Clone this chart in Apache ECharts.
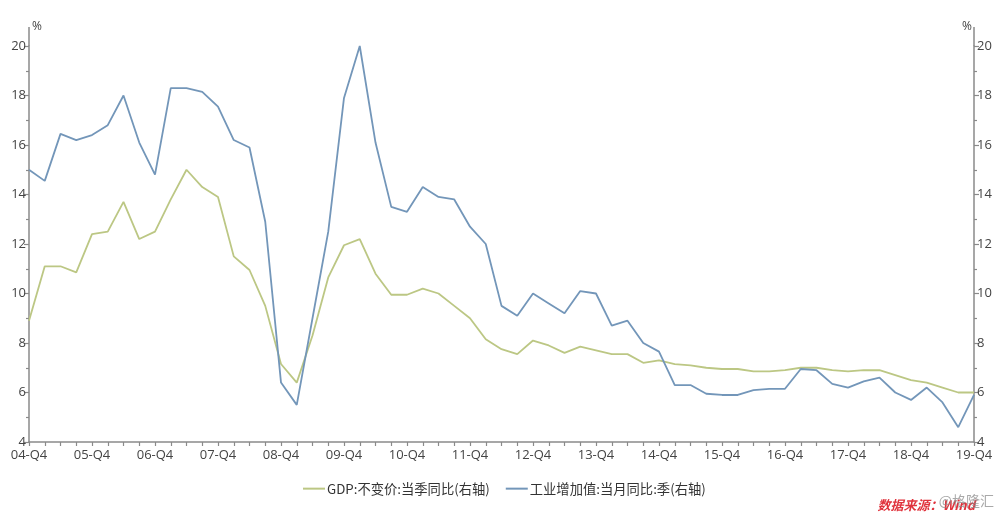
<!DOCTYPE html>
<html><head><meta charset="utf-8">
<script src="https://cdn.jsdelivr.net/npm/echarts@6/dist/echarts.min.js"></script>
<style>html,body{margin:0;padding:0;background:#fff}#c{width:1000px;height:517px}</style>
</head><body><div id="c"></div>
<script>
const categories = ["04-Q4","05-Q1","05-Q2","05-Q3","05-Q4","06-Q1","06-Q2","06-Q3","06-Q4","07-Q1","07-Q2","07-Q3","07-Q4","08-Q1","08-Q2","08-Q3","08-Q4","09-Q1","09-Q2","09-Q3","09-Q4","10-Q1","10-Q2","10-Q3","10-Q4","11-Q1","11-Q2","11-Q3","11-Q4","12-Q1","12-Q2","12-Q3","12-Q4","13-Q1","13-Q2","13-Q3","13-Q4","14-Q1","14-Q2","14-Q3","14-Q4","15-Q1","15-Q2","15-Q3","15-Q4","16-Q1","16-Q2","16-Q3","16-Q4","17-Q1","17-Q2","17-Q3","17-Q4","18-Q1","18-Q2","18-Q3","18-Q4","19-Q1","19-Q2","19-Q3","19-Q4"];
const gdpName = "GDP:不变价:当季同比(右轴)";
const indName = "工业增加值:当月同比:季(右轴)";
const gdpValues = [8.9,11.1,11.1,10.85,12.4,12.5,13.7,12.2,12.5,13.8,15.0,14.3,13.9,11.5,10.95,9.5,7.15,6.4,8.3,10.65,11.95,12.2,10.8,9.95,9.95,10.2,10.0,9.5,9.0,8.15,7.75,7.55,8.1,7.9,7.6,7.85,7.7,7.55,7.55,7.2,7.3,7.15,7.1,7.0,6.95,6.95,6.85,6.85,6.9,7.0,7.0,6.9,6.85,6.9,6.9,6.7,6.5,6.4,6.2,6.0,6.0];
const indValues = [15.0,14.55,16.45,16.2,16.4,16.8,18.0,16.1,14.8,18.3,18.3,18.15,17.55,16.2,15.9,12.9,6.4,5.5,9.0,12.5,17.9,20.0,16.1,13.5,13.3,14.3,13.9,13.8,12.7,12.0,9.5,9.1,10.0,9.6,9.2,10.1,10.0,8.7,8.9,8.0,7.65,6.3,6.3,5.95,5.9,5.9,6.1,6.15,6.15,6.95,6.9,6.35,6.2,6.45,6.6,6.0,5.7,6.2,5.6,4.6,5.9];
const yMin = 4, yMax = 20, yInterval = 2;
const unitLabel = "%";
const sourceText = "数据来源：Wind";
const watermark = "@格隆汇";

const axisColor = '#8a8a8a';
const labelColor = '#444';
const chart = echarts.init(document.getElementById('c'), null, {renderer:'canvas'});
function yAxisCfg(pos){
  return {
    type:'value', position:pos, min:yMin, max:yMax, interval:yInterval,
    axisLine:{show:true, lineStyle:{color:axisColor, width:1.5}},
    axisTick:{show:true, length:5, lineStyle:{color:axisColor, width:1.2}},
    minorTick:{show:true, splitNumber:2, length:3, lineStyle:{color:axisColor, width:1.2}},
    splitLine:{show:false},
    axisLabel:{color:labelColor, fontSize:13, fontFamily:'Open Sans', margin:3}
  };
}
const option = {
  animation:false,
  backgroundColor:'#fff',
  grid:{left:29, right:26, top:46, bottom:75, containLabel:false},
  xAxis:{
    type:'category', data:categories, boundaryGap:false,
    axisLine:{lineStyle:{color:axisColor, width:1.5}},
    axisTick:{show:true, interval:0, length:4, lineStyle:{color:axisColor, width:1.2}},
    axisLabel:{interval:3, color:labelColor, fontSize:13, fontFamily:'Open Sans', margin:7}
  },
  yAxis:[yAxisCfg('left'), yAxisCfg('right')],
  legend:{
    left:298, top:477, itemWidth:22, itemHeight:2, itemGap:16, icon:'rect',
    textStyle:{color:'#333', fontSize:13.3, fontFamily:'Noto Sans CJK SC', padding:[0,0,0,-3]},
    data:[gdpName, indName]
  },
  series:[
    {name:gdpName, type:'line', yAxisIndex:1, data:gdpValues, showSymbol:false, symbol:'none',
     lineStyle:{color:'#bcc784', width:1.8}, itemStyle:{color:'#bcc784'}},
    {name:indName, type:'line', yAxisIndex:1, data:indValues, showSymbol:false, symbol:'none',
     lineStyle:{color:'#7396b9', width:1.8}, itemStyle:{color:'#7396b9'}}
  ]
};
chart.setOption(option);
const pTop = chart.convertToPixel({yAxisIndex:0}, yMax);
const xL = chart.convertToPixel({xAxisIndex:0}, 0);
const xR = chart.convertToPixel({xAxisIndex:0}, categories.length-1);
const ext = 19;
chart.setOption({graphic:[
  {type:'line', shape:{x1:xL, y1:pTop-ext, x2:xL, y2:pTop}, style:{stroke:axisColor, lineWidth:1.5}},
  {type:'line', shape:{x1:xR, y1:pTop-ext, x2:xR, y2:pTop}, style:{stroke:axisColor, lineWidth:1.5}},
  {type:'text', x:xL+3, y:pTop-ext-6, style:{text:unitLabel, fill:'#444', font:'12px "Open Sans"'}},
  {type:'text', x:xR-12, y:pTop-ext-6, style:{text:unitLabel, fill:'#444', font:'12px "Open Sans"'}},
  {type:'text', right:25, top:499, style:{text:sourceText, fill:'#e0323c', font:'italic bold 13px "Noto Sans CJK SC"'}},
  {type:'text', right:6, top:494, style:{text:watermark, fill:'rgba(140,140,140,0.75)', font:'14px "Noto Sans CJK SC"'}}
]});
</script></body></html>
